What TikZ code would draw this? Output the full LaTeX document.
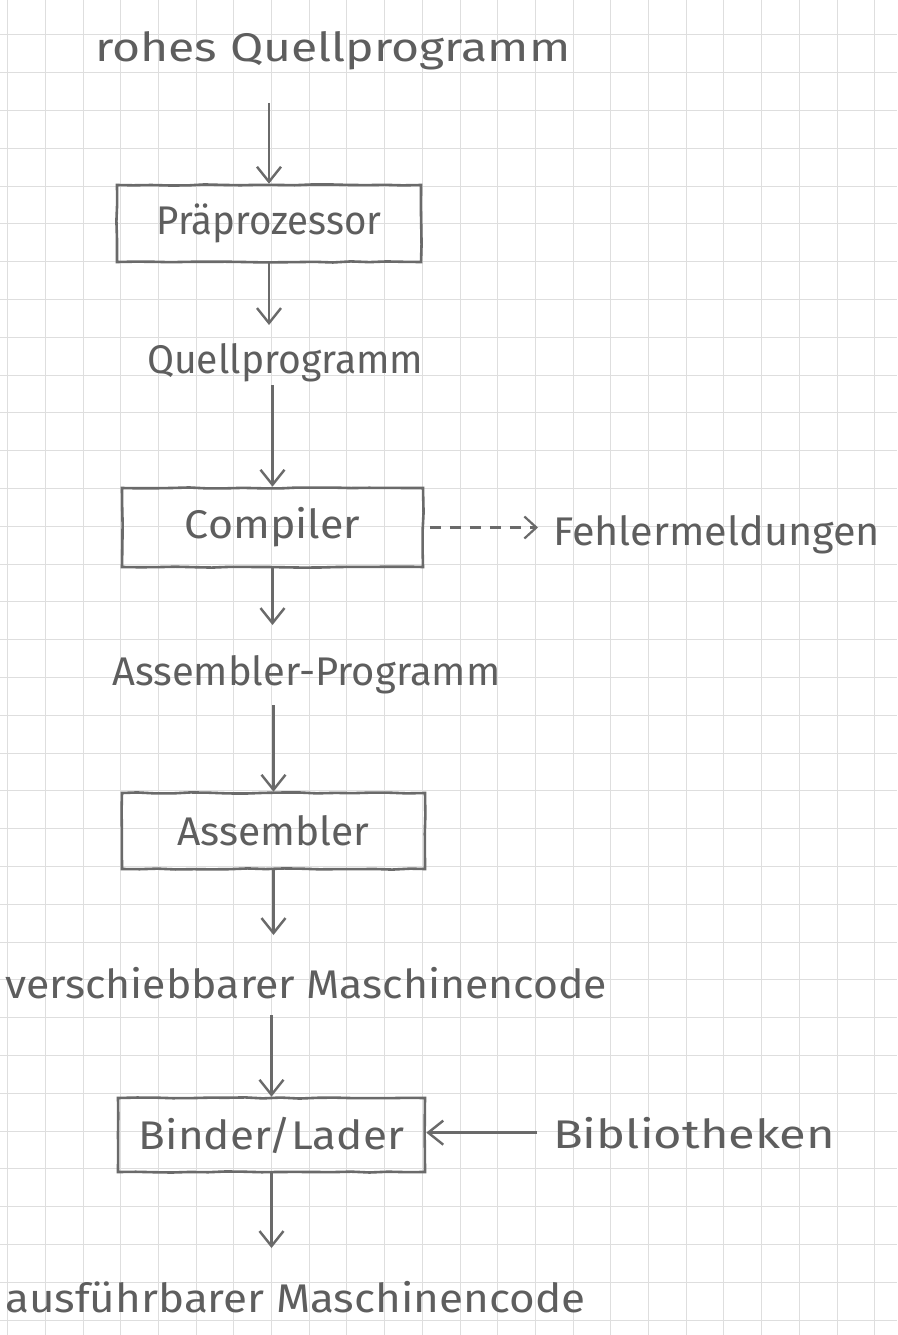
\documentclass[tikz,border=0pt]{standalone}
\usepackage{fontspec}
\setmainfont{Fira Sans}
\usetikzlibrary{arrows.meta,decorations.pathmorphing}
\definecolor{pen}{HTML}{6A6A6A}
\definecolor{ink}{HTML}{5E5E5E}
\definecolor{gridc}{HTML}{DEDEDE}
\newcommand\hw[2]{\resizebox{#1pt}{\height}{#2}}
\begin{document}
\begin{tikzpicture}[x=1pt,y=-1pt,
  font=\fontsize{40}{48}\selectfont,
  gridline/.style={draw=gridc, line width=0.8pt},
  box/.style={draw=pen, line width=2.6pt, text=ink, inner sep=0pt,
    decorate, decoration={random steps, segment length=18pt, amplitude=0.6pt}},
  lbl/.style={anchor=base west, inner sep=0pt, text=ink},
  arr/.style={draw=pen, line width=2.4pt, -{Straight Barb[length=15pt,width=24pt]}},
  dasharr/.style={draw=pen, line width=2.2pt, dash pattern=on 11pt off 9pt,
    -{Straight Barb[length=12pt,width=22pt]}}]
\useasboundingbox (0,0) rectangle (897,1335);
\fill[white] (0,0) rectangle (897,1335);
% grid paper
\foreach \i in {0,...,23} \draw[gridline] ({7.5+37.7*\i},0) -- ({7.5+37.7*\i},1335);
\foreach \j in {1,...,35} \draw[gridline] (0,{-3+37.8*\j}) -- (897,{-3+37.8*\j});

% texts
\node[lbl] (t1) at (95,62) {\hw{475}{rohes Quellprogramm}};
\node[lbl] (t2) at (147,373) {\hw{276}{Quellprogramm}};
\node[lbl] (t3) at (112,685) {\hw{388}{Assembler-Programm}};
\node[lbl] (t4) at (5,998) {\hw{602}{verschiebbarer Maschinencode}};
\node[lbl] (t5) at (5,1312) {\hw{580}{ausführbarer Maschinencode}};
\node[lbl] (fe) at (553,545) {\hw{327}{Fehlermeldungen}};
\node[lbl] (bib) at (553,1148) {\hw{282}{Bibliotheken}};

% boxes
\node[box, minimum width=304pt, minimum height=77pt] (b1) at (269,223.5) {\raisebox{-4pt}{\hw{225}{Präprozessor}}};
\node[box, minimum width=301pt, minimum height=79pt] (b2) at (272.5,527.5) {\raisebox{-4pt}{\hw{175}{Compiler}}};
\node[box, minimum width=303pt, minimum height=76pt] (b3) at (273.5,831) {\raisebox{-4pt}{\hw{192}{Assembler}}};
\node[box, minimum width=307pt, minimum height=74pt] (b4) at (271.5,1135) {\hw{265}{Binder/Lader}};

% arrows
\draw[arr, shorten <=41pt] (b1.north |- t1.base) -- (b1.north);
\draw[arr, shorten >=48pt] (b1.south) -- (b1.south |- t2.base);
\draw[arr, shorten <=12pt] (b2.north |- t2.base) -- (b2.north);
\draw[arr, shorten >=60pt] (b2.south) -- (b2.south |- t3.base);
\draw[arr, shorten <=20pt] (b3.north |- t3.base) -- (b3.north);
\draw[arr, shorten >=63pt] (b3.south) -- (b3.south |- t4.base);
\draw[arr, shorten <=17pt] (b4.north |- t4.base) -- (b4.north);
\draw[arr, shorten >=64pt] (b4.south) -- (b4.south |- t5.base);
\draw[dasharr, shorten <=6pt, shorten >=15pt] (b2.east) -- (b2.east -| fe.west);
\draw[arr, shorten <=16pt] (bib.west) -- (bib.west -| b4.east);
\end{tikzpicture}
\end{document}
